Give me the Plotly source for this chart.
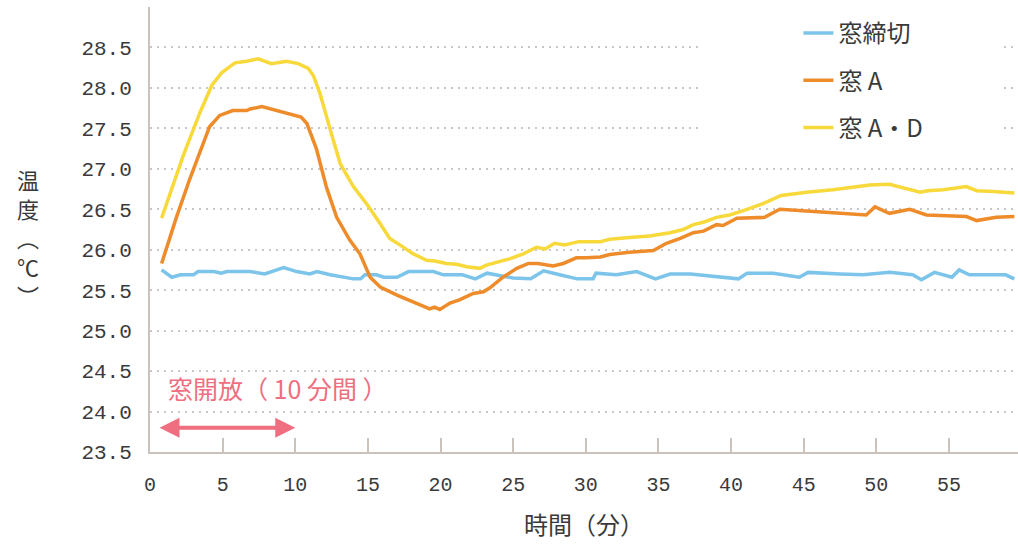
import plotly.graph_objects as go

# ---- data (minutes, deg C) ----
t_closed = [0.8, 1.5, 2.1, 3.0, 3.3, 4.4, 4.9, 5.3, 6.9, 7.9, 9.2, 10.1, 11.0, 11.5, 12.4,
            14.0, 14.5, 14.8, 15.6, 16.1, 17.0, 17.8, 19.5, 20.2, 21.5, 22.4, 23.2, 25.0,
            26.2, 27.1, 28.2, 29.4, 30.5, 30.7, 32.1, 33.5, 34.8, 35.8, 37.2, 39.0, 40.5,
            41.1, 42.9, 44.7, 45.3, 47.5, 49.1, 50.9, 52.5, 53.1, 54.0, 55.2, 55.7, 56.4,
            58.9, 59.5]
v_closed = [25.75, 25.66, 25.69, 25.69, 25.73, 25.73, 25.71, 25.73, 25.73, 25.70, 25.78,
            25.73, 25.70, 25.73, 25.69, 25.64, 25.64, 25.69, 25.69, 25.66, 25.66, 25.73,
            25.73, 25.69, 25.69, 25.64, 25.71, 25.65, 25.64, 25.74, 25.69, 25.64, 25.64,
            25.71, 25.69, 25.73, 25.64, 25.70, 25.70, 25.67, 25.64, 25.71, 25.71, 25.66,
            25.72, 25.70, 25.69, 25.72, 25.69, 25.63, 25.72, 25.66, 25.75, 25.69, 25.69,
            25.64]

t_a = [0.8, 1.8, 2.75, 3.45, 4.1, 4.8, 5.7, 6.65, 6.9, 7.7, 8.7, 9.85, 10.4, 10.8, 11.45,
       12.15, 12.85, 13.75, 14.45, 15.15, 15.85, 17.0, 18.1, 19.25, 19.6, 19.95, 20.65,
       21.3, 22.25, 22.95, 23.4, 24.3, 25.25, 26.05, 26.7, 27.75, 28.45, 29.35, 30.05,
       31.0, 31.65, 33.0, 34.65, 35.55, 36.5, 37.4, 38.1, 39.0, 39.45, 40.4, 42.3, 43.35,
       45.2, 47.5, 49.3, 49.9, 50.9, 52.3, 53.45, 56.2, 56.9, 58.25, 59.5]
v_a = [25.83, 26.39, 26.88, 27.21, 27.52, 27.66, 27.72, 27.72, 27.74, 27.77, 27.72, 27.66,
       27.64, 27.56, 27.25, 26.77, 26.40, 26.12, 25.95, 25.66, 25.54, 25.44, 25.36, 25.27,
       25.29, 25.26, 25.34, 25.38, 25.46, 25.48, 25.53, 25.66, 25.77, 25.83, 25.83, 25.80,
       25.83, 25.90, 25.90, 25.91, 25.94, 25.97, 25.99, 26.08, 26.14, 26.21, 26.23, 26.31,
       26.30, 26.39, 26.40, 26.50, 26.48, 26.45, 26.43, 26.53, 26.45, 26.50, 26.43, 26.41,
       26.36, 26.40, 26.41]

t_ad = [0.8, 2.3, 3.45, 4.25, 4.95, 5.85, 6.65, 7.45, 8.35, 9.4, 10.2, 10.9, 11.25, 11.7,
        12.4, 13.1, 14.0, 14.9, 15.85, 16.5, 17.2, 18.1, 19.05, 19.6, 20.4, 21.1, 21.8,
        22.7, 23.15, 24.1, 24.8, 25.7, 26.6, 27.2, 27.85, 28.55, 29.5, 31.0, 31.65, 33.0,
        34.4, 35.8, 36.7, 37.4, 38.1, 39.0, 39.9, 40.8, 42.2, 43.45, 45.2, 47.0, 48.4,
        49.55, 50.9, 51.95, 53.0, 53.55, 54.6, 56.2, 56.9, 58.05, 59.5]
v_ad = [26.39, 27.17, 27.70, 28.03, 28.19, 28.31, 28.33, 28.36, 28.30, 28.33, 28.30, 28.24,
        28.15, 27.93, 27.49, 27.06, 26.78, 26.57, 26.32, 26.14, 26.06, 25.95, 25.87, 25.86,
        25.83, 25.82, 25.79, 25.77, 25.81, 25.85, 25.89, 25.95, 26.03, 26.01, 26.08, 26.06,
        26.10, 26.10, 26.13, 26.15, 26.17, 26.21, 26.25, 26.31, 26.34, 26.40, 26.43, 26.48,
        26.57, 26.67, 26.71, 26.74, 26.77, 26.80, 26.81, 26.76, 26.71, 26.73, 26.74, 26.78,
        26.73, 26.72, 26.70]

series_names = ["窓締切", "窓 A", "窓 A・D"]
x_ticks = [0, 5, 10, 15, 20, 25, 30, 35, 40, 45, 50, 55]
y_ticks = [23.5, 24.0, 24.5, 25.0, 25.5, 26.0, 26.5, 27.0, 27.5, 28.0, 28.5]
y_title_chars = ["温", "度", "︵", "℃", "︶"]   # 温度（℃） written vertically

open_start, open_end = 0.55, 10.0   # window-open period (min)
open_label = "窓開放（ 10 分間 ）"

# ---- styles ----
C_BLUE = "#7cc4ea"
C_ORANGE = "#ee8c2c"
C_YELLOW = "#f8d93c"
C_PINK = "#ef6e80"
AXIS_C = "#cbc3bb"
GRID_C = "#c6c6cc"
TXT_C = "#3a3a3a"
JP = "Noto Sans CJK JP"
NUM = "Liberation Mono"

fig = go.Figure()
for i, (tx, vy, col) in enumerate([(t_closed, v_closed, C_BLUE),
                                   (t_a, v_a, C_ORANGE),
                                   (t_ad, v_ad, C_YELLOW)]):
    fig.add_trace(go.Scatter(x=tx, y=vy, mode="lines", name=series_names[i],
                             legendgroup=f"g{i}",
                             line=dict(color=col, width=3.5)))

# white box behind legend (hides the grid there)
fig.add_shape(type="rect", xref="x", yref="y", x0=38.0, x1=58.6, y0=27.25, y1=29.0,
              fillcolor="white", line=dict(width=0), layer="between")

# window-open double arrow and label
fig.add_annotation(x=open_end, y=23.8, ax=open_start, ay=23.8, xref="x", yref="y",
                   axref="x", ayref="y", text="", showarrow=True,
                   arrowside="end+start", arrowhead=2, arrowsize=1.0,
                   arrowwidth=4, arrowcolor=C_PINK, standoff=0, startstandoff=0)
fig.add_annotation(x=8.8, y=24.29, xref="x", yref="y", text=open_label,
                   showarrow=False, font=dict(family=JP, size=25, color=C_PINK))

# vertical y-axis title, one character per row (29 px apart)
PLOT_TOP, PLOT_H = 7, 445
for k, ch in enumerate(y_title_chars):
    ypx = 179 + 29 * k
    fig.add_annotation(x=-0.1406, y=1 - (ypx - PLOT_TOP) / PLOT_H,
                       xref="paper", yref="paper", xanchor="center", yanchor="middle",
                       text=ch, showarrow=False,
                       font=dict(family=JP, size=22, color=TXT_C))

fig.update_layout(
    width=1018, height=547,
    margin=dict(l=150, r=0, t=PLOT_TOP, b=95),
    paper_bgcolor="white", plot_bgcolor="white",
    showlegend=True,
    legend=dict(x=0.747, y=0.991, xanchor="left", yanchor="top",
                bgcolor="rgba(0,0,0,0)", tracegroupgap=13,
                font=dict(family=JP, size=24, color=TXT_C)),
    xaxis=dict(range=[0, 59.75], tickvals=x_ticks, ticktext=[str(v) for v in x_ticks],
               automargin=False,
               showgrid=False, zeroline=False, showline=True, linecolor=AXIS_C,
               linewidth=2, ticks="inside", ticklen=14, tickwidth=2, tickcolor=AXIS_C,
               ticklabelstandoff=13,
               tickfont=dict(family=NUM, size=20, color=TXT_C),
               title=dict(text="時間（分）", standoff=21,
                          font=dict(family=JP, size=24, color=TXT_C))),
    yaxis=dict(range=[23.5, 29.0], tickvals=y_ticks,
               ticktext=[f"{v:.1f}" for v in y_ticks],
               automargin=False,
               showgrid=True, gridcolor=GRID_C, gridwidth=2, griddash="2px,5px",
               zeroline=False, showline=True, linecolor=AXIS_C, linewidth=2,
               ticks="", ticklabelstandoff=12,
               tickfont=dict(family=NUM, size=21, color=TXT_C)),
)

fig.write_html("out.html", config={"displayModeBar": False},
               post_script="document.body.style.margin='0';")
